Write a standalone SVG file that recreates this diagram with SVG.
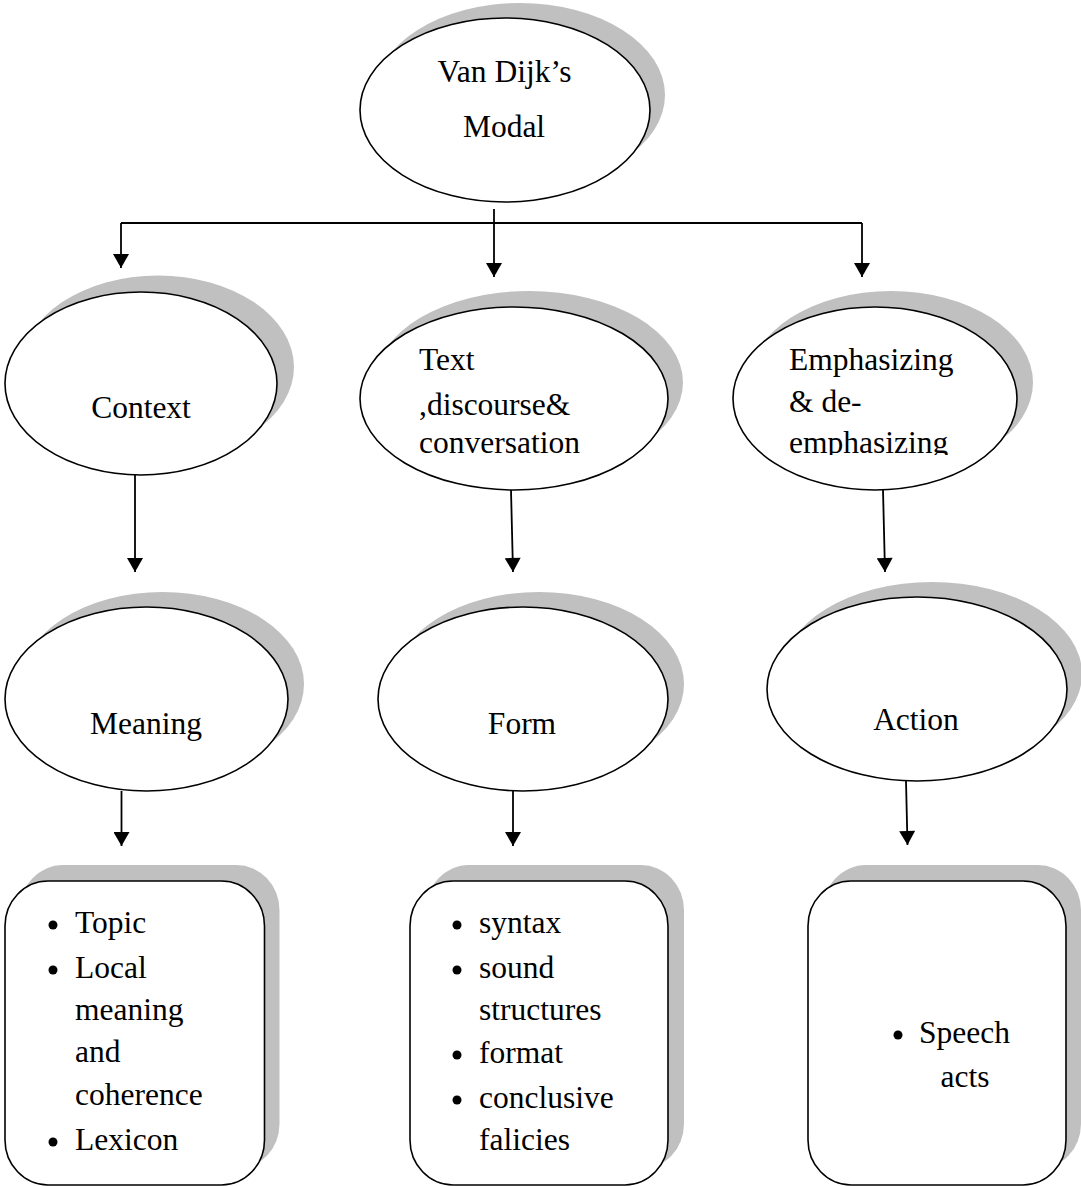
<svg xmlns="http://www.w3.org/2000/svg" width="1081" height="1186" viewBox="0 0 1081 1186">
<style>
.sh{fill:#c0c0c0;stroke:none}
.nd{fill:#fff;stroke:#000;stroke-width:1.6}
.t{font-family:"Liberation Serif","Times New Roman",serif;font-size:31.5px;fill:#000}
.m{text-anchor:middle}
.c{fill:none;stroke:#000;stroke-width:1.8}
.b{fill:#000}
</style>
<defs>
<marker id="ah" markerUnits="userSpaceOnUse" markerWidth="16" markerHeight="16" viewBox="0 0 14 16" refX="14" refY="8" orient="auto">
<path d="M0,0 L14,8 L0,16 Z" fill="#000"/>
</marker>
<clipPath id="clipE"><rect x="730" y="290" width="300" height="165"/></clipPath>
</defs>
<rect width="1081" height="1186" fill="#fff"/>

<g id="n-vandijk">
<ellipse class="sh" cx="520" cy="95" rx="145" ry="92"/>
<ellipse class="nd" cx="505" cy="110" rx="145" ry="92"/>
<text class="t m" x="504.5" y="82">Van Dijk’s</text>
<text class="t m" x="504" y="137">Modal</text>
</g>

<g id="n-context">
<ellipse class="sh" cx="158" cy="367" rx="136" ry="91.5"/>
<ellipse class="nd" cx="141" cy="383.5" rx="136" ry="91.5"/>
<text class="t m" x="141" y="418">Context</text>
</g>

<g id="n-text">
<ellipse class="sh" cx="529" cy="382.5" rx="154" ry="91.5"/>
<ellipse class="nd" cx="514" cy="398.5" rx="154" ry="91.5"/>
<text class="t" x="419" y="370">Text</text>
<text class="t" x="419" y="415">,discourse&amp;</text>
<text class="t" x="419" y="453">conversation</text>
</g>

<g id="n-emph">
<ellipse class="sh" cx="891" cy="382.5" rx="142" ry="91.5"/>
<ellipse class="nd" cx="875" cy="398.5" rx="142" ry="91.5"/>
<g clip-path="url(#clipE)">
<text class="t" x="789" y="370">Emphasizing</text>
<text class="t" x="789" y="412">&amp; de-</text>
<text class="t" x="789" y="453">emphasizing</text>
</g>
</g>

<g id="n-meaning">
<ellipse class="sh" cx="162.5" cy="684" rx="141.5" ry="92"/>
<ellipse class="nd" cx="146.5" cy="699" rx="141.5" ry="92"/>
<text class="t m" x="146" y="734">Meaning</text>
</g>

<g id="n-form">
<ellipse class="sh" cx="539" cy="684" rx="145" ry="92"/>
<ellipse class="nd" cx="523" cy="699" rx="145" ry="92"/>
<text class="t m" x="522" y="734">Form</text>
</g>

<g id="n-action">
<ellipse class="sh" cx="932" cy="674" rx="150" ry="92"/>
<ellipse class="nd" cx="917" cy="689" rx="150" ry="92"/>
<text class="t m" x="916" y="730">Action</text>
</g>

<g id="n-box1">
<rect class="sh" x="20" y="865" width="259.5" height="304" rx="43" ry="45"/>
<rect class="nd" x="5" y="881" width="259.5" height="304" rx="43" ry="45"/>
<circle class="b" cx="53" cy="925" r="4.5"/>
<text class="t" x="75" y="933">Topic</text>
<circle class="b" cx="53" cy="970" r="4.5"/>
<text class="t" x="75" y="978">Local</text>
<text class="t" x="75" y="1020">meaning</text>
<text class="t" x="75" y="1062">and</text>
<text class="t" x="75" y="1105">coherence</text>
<circle class="b" cx="53" cy="1142" r="4.5"/>
<text class="t" x="75" y="1150">Lexicon</text>
</g>

<g id="n-box2">
<rect class="sh" x="426" y="865" width="258" height="304" rx="43" ry="45"/>
<rect class="nd" x="410" y="881" width="258" height="304" rx="43" ry="45"/>
<circle class="b" cx="457" cy="925" r="4.5"/>
<text class="t" x="479" y="933">syntax</text>
<circle class="b" cx="457" cy="970" r="4.5"/>
<text class="t" x="479" y="978">sound</text>
<text class="t" x="479" y="1020">structures</text>
<circle class="b" cx="457" cy="1055" r="4.5"/>
<text class="t" x="479" y="1063">format</text>
<circle class="b" cx="457" cy="1100" r="4.5"/>
<text class="t" x="479" y="1108">conclusive</text>
<text class="t" x="479" y="1150">falicies</text>
</g>

<g id="n-box3">
<rect class="sh" x="823" y="865" width="258" height="304" rx="43" ry="45"/>
<rect class="nd" x="808" y="881" width="258" height="304" rx="43" ry="45"/>
<circle class="b" cx="898" cy="1035" r="4.5"/>
<text class="t" x="919" y="1043">Speech</text>
<text class="t m" x="965" y="1087">acts</text>
</g>

<g id="connectors">
<line class="c" x1="494" y1="209" x2="494" y2="277" marker-end="url(#ah)"/>
<line class="c" x1="121" y1="223" x2="862" y2="223"/>
<line class="c" x1="121" y1="223" x2="121" y2="268" marker-end="url(#ah)"/>
<line class="c" x1="862" y1="223" x2="862" y2="277" marker-end="url(#ah)"/>
<line class="c" x1="135" y1="475" x2="135" y2="572" marker-end="url(#ah)"/>
<line class="c" x1="511" y1="490" x2="513" y2="572" marker-end="url(#ah)"/>
<line class="c" x1="883" y1="490" x2="885" y2="572" marker-end="url(#ah)"/>
<line class="c" x1="121.5" y1="791" x2="121.5" y2="846" marker-end="url(#ah)"/>
<line class="c" x1="513" y1="791" x2="513" y2="846" marker-end="url(#ah)"/>
<line class="c" x1="906" y1="781" x2="907.5" y2="845" marker-end="url(#ah)"/>
</g>
</svg>
